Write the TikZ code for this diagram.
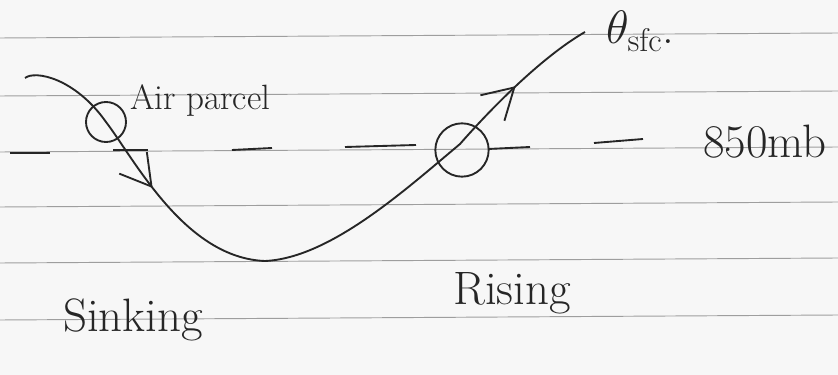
\RequirePackage{fix-cm}
\documentclass[tikz,border=0pt]{standalone}
\usepackage{tikz}
\usetikzlibrary{arrows.meta,decorations.markings,positioning}

\begin{document}
\begin{tikzpicture}[x=0.03cm, y=-0.03cm,
    ink/.style={line width=1.6pt, draw=black!85},
    paper/.style={draw=black!38, line width=0.8pt},
    parcel/.style={ink, circle, minimum size=1.2cm, inner sep=0pt},
    hand/.style={font=\fontsize{30}{34}\selectfont, text=black!85, inner sep=0pt},
    bighand/.style={hand, font=\fontsize{40}{44}\selectfont},
    barb/.tip={Straight Barb[length=0.9cm, width=1.05cm]}
]
\fill[black!3] (0,0) rectangle (838,375);
\useasboundingbox (0,0) rectangle (838,375);

% ruled paper
\foreach \y in {38,96,152,207,263,320}
  \draw[paper] (0,\y) -- (838,\y-5);

% the 850mb level, dashed by hand
\foreach \xa/\ya/\xb/\yb in {10/153/50/153, 113/150/148/150, 232/150/272/148,
                             345/147/416/145, 488/149/530/147, 594/143/643/139}
  \draw[ink] (\xa,\ya) -- (\xb,\yb);

\node[parcel] (parcelA) at (106,122) {};
\node[parcel, minimum width=1.5cm, minimum height=1.6cm] (parcelB) at (462,150) {};
\coordinate (start) at (25,78);
\coordinate (trough) at (265,261);
\coordinate (finish) at (585,32);

\draw[ink, postaction={decorate}, decoration={markings,
      mark=at position 0.25 with {\arrow[line width=1.6pt]{barb}},
      mark=at position 0.877 with {\arrow[line width=1.6pt]{barb}}}]
  (start) .. controls (35,70) and (75,78) .. (parcelA.center)
  .. controls (135,160) and (185,258) .. (trough)
  .. controls (330,258) and (405,190) .. (460,144)
  .. controls (488,112) and (540,58) .. (finish);

\node[hand, anchor=base west] (airlabel) at (130,110) {Air parcel};
\node[bighand, anchor=base west] (theta) at (606,44) {$\theta_{\mathrm{sfc}}$.};
\node[bighand, anchor=base west] (level) at (703,158) {850mb};
\node[bighand, anchor=base west] (sink) at (63,332) {Sinking};
\node[bighand, anchor=base west] (rise) at (453,305) {Rising};
\end{tikzpicture}
\end{document}
